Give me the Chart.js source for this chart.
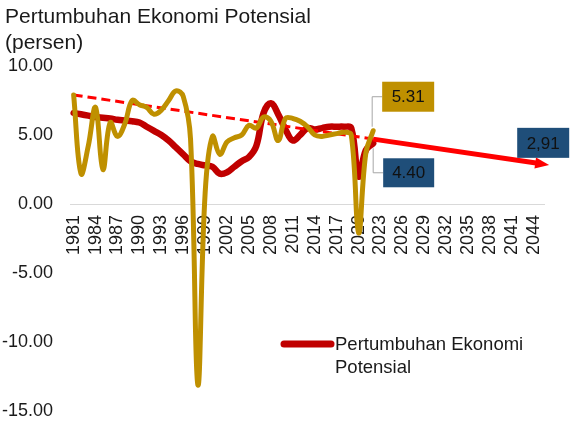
<!DOCTYPE html>
<html><head><meta charset="utf-8">
<script src="https://cdn.jsdelivr.net/npm/chart.js@4.4.1/dist/chart.umd.min.js"></script>
<style>html,body{margin:0;padding:0;background:#fff}#wrap{width:574px;height:422px;position:relative}</style>
</head><body><div id="wrap"><canvas id="c" width="574" height="422"></canvas></div>
<script>
const FONT = "'Liberation Sans', Arial, sans-serif";
const TEXT = '#1a1a1a';

const years = ['1981','1982','1983','1984','1985','1986','1987','1988','1989','1990',
  '1991','1992','1993','1994','1995','1996','1997','1998','1999','2000',
  '2001','2002','2003','2004','2005','2006','2007','2008','2009','2010',
  '2011','2012','2013','2014','2015','2016','2017','2018','2019','2020',
  '2021','2022','2023','2024','2025','2026','2027','2028','2029','2030',
  '2031','2032','2033','2034','2035','2036','2037','2038','2039','2040',
  '2041','2042','2043','2044','2045'];

// actual growth 1981-2022
const actualGrowth = [7.9,2.2,4.2,7.0,2.5,5.9,4.9,5.8,7.5,7.2,
  7.0,6.5,6.8,7.5,8.2,7.8,4.7,-13.1,0.8,4.9,
  3.6,4.5,4.8,5.0,5.7,5.5,6.3,6.0,4.6,6.2,
  6.2,6.0,5.6,5.0,4.9,5.0,5.1,5.2,5.0,-2.1,
  3.7,5.31];

// potential growth 1981-2022
const potentialGrowth = [6.6,6.5,6.4,6.3,6.25,6.2,6.1,6.05,6.0,5.9,
  5.6,5.3,5.0,4.6,4.1,3.6,3.1,2.9,2.8,2.7,
  2.2,2.3,2.7,3.1,3.4,4.2,6.6,7.3,6.5,5.4,
  4.6,5.0,5.5,5.4,5.5,5.6,5.6,5.6,5.5,2.0,
  3.9,4.40];

// trend line endpoints (dashed) and projection (arrow)
const trendPoints = {'1981': 7.9, '2045': 2.91};
const projectionPoints = {'2022': 4.70, '2045': 2.91};

const yTicks = [-15, -10, -5, 0, 5, 10];
const titleLines = ['Pertumbuhan Ekonomi Potensial', '(persen)'];
const legendLines = ['Pertumbuhan Ekonomi', 'Potensial'];
const calloutActual = '5.31';
const calloutPotential = '4.40';
const calloutProjection = '2,91';

const padSeries = arr => years.map((y, i) => i < arr.length ? arr[i] : null);
const sparse = obj => years.map(y => (y in obj) ? obj[y] : null);

const GOLD = '#BF9000';
const DARKRED = '#C00000';
const RED = '#FF0000';
const BLUE = '#1F4E79';

const overlay = {
  id: 'overlay',
  afterDatasetsDraw(chart) {
    const ctx = chart.ctx;
    const i22 = years.indexOf('2022');
    const pA = chart.getDatasetMeta(0).data[i22];
    const pR = chart.getDatasetMeta(3).data[i22];
    const proj = chart.getDatasetMeta(1).data.filter(p => !p.skip);
    const e = proj[proj.length - 1], s = proj[0];
    ctx.save();
    // arrowhead
    const dx = e.x - s.x, dy = e.y - s.y, L = Math.hypot(dx, dy);
    const ux = dx / L, uy = dy / L;
    const tipX = e.x + ux * 8, tipY = e.y + uy * 8;
    const bx = e.x - ux * 6, by = e.y - uy * 6;
    ctx.fillStyle = RED;
    ctx.beginPath();
    ctx.moveTo(tipX, tipY);
    ctx.lineTo(bx - uy * 5.5, by + ux * 5.5);
    ctx.lineTo(bx + uy * 5.5, by - ux * 5.5);
    ctx.closePath();
    ctx.fill();

    // leader lines
    ctx.strokeStyle = '#a6a6a6';
    ctx.lineWidth = 1;
    const b1 = {x: pA.x + 9, y: pA.y - 49, w: 52, h: 30};
    const b2 = {x: pR.x + 10, y: pR.y + 15, w: 51, h: 29};
    const b3 = {x: e.x - 24, y: e.y - 36, w: 52, h: 30};
    ctx.beginPath();
    ctx.moveTo(b1.x, b1.y + b1.h / 2); ctx.lineTo(pA.x - 1, b1.y + b1.h / 2); ctx.lineTo(pA.x - 1, pA.y - 4);
    ctx.moveTo(b2.x, b2.y + b2.h / 2); ctx.lineTo(pR.x, b2.y + b2.h / 2); ctx.lineTo(pR.x, pR.y + 5);
    ctx.stroke();

    const box = (b, fill, txt) => {
      ctx.fillStyle = fill;
      ctx.fillRect(b.x, b.y, b.w, b.h);
      ctx.fillStyle = '#111';
      ctx.font = '17px ' + FONT;
      ctx.textAlign = 'center';
      ctx.textBaseline = 'middle';
      ctx.fillText(txt, b.x + b.w / 2, b.y + b.h / 2 + 1);
    };
    box(b1, GOLD, calloutActual);
    box(b2, BLUE, calloutPotential);
    box(b3, BLUE, calloutProjection);

    // legend
    ctx.strokeStyle = DARKRED;
    ctx.lineWidth = 7;
    ctx.lineCap = 'round';
    ctx.beginPath(); ctx.moveTo(284, 344); ctx.lineTo(331, 344); ctx.stroke();
    ctx.fillStyle = TEXT;
    ctx.font = '18.5px ' + FONT;
    ctx.textAlign = 'left';
    ctx.textBaseline = 'middle';
    ctx.fillText(legendLines[0], 335, 345);
    ctx.fillText(legendLines[1], 335, 368);

    // title
    ctx.font = '21px ' + FONT;
    ctx.fillText(titleLines[0], 5, 17);
    ctx.fillText(titleLines[1], 5, 43);
    ctx.restore();
  }
};

new Chart(document.getElementById('c'), {
  type: 'line',
  data: {
    labels: years,
    datasets: [
      {label: 'Pertumbuhan Ekonomi', data: padSeries(actualGrowth), borderColor: GOLD, borderWidth: 5,
        tension: 0.4, pointRadius: 0, fill: false, borderCapStyle: 'round', borderJoinStyle: 'round'},
      {label: 'Proyeksi', data: sparse(projectionPoints), borderColor: RED, borderWidth: 5,
        spanGaps: true, pointRadius: 0, fill: false, tension: 0},
      {label: 'Tren', data: sparse(trendPoints), borderColor: RED, borderWidth: 3, borderDash: [9, 5],
        spanGaps: true, pointRadius: 0, fill: false, tension: 0},
      {label: 'Pertumbuhan Ekonomi Potensial', data: padSeries(potentialGrowth), borderColor: DARKRED, borderWidth: 6.5,
        tension: 0.4, pointRadius: 0, fill: false, borderCapStyle: 'round', borderJoinStyle: 'round'}
    ]
  },
  options: {
    responsive: false,
    animation: false,
    layout: {padding: {left: 0, right: 26, top: 66, bottom: 11}},
    plugins: {
      legend: {display: false},
      tooltip: {enabled: false},
      title: {display: false}
    },
    scales: {
      x: {
        position: {y: 0},
        offset: true,
        grid: {display: false, drawTicks: false},
        border: {display: true, color: '#d9d9d9', width: 1},
        ticks: {autoSkip: false, maxRotation: 90, minRotation: 90, padding: 11, color: TEXT,
          font: {family: FONT, size: 18},
          callback: function(v, i) { return (i % 3 === 0) ? years[i] : ''; }}
      },
      y: {
        min: -15, max: 10,
        afterBuildTicks: s => { s.ticks = yTicks.map(v => ({value: v})); },
        grid: {display: false, drawTicks: false},
        border: {display: false},
        ticks: {padding: 17, color: TEXT, font: {family: FONT, size: 18},
          callback: v => Number(v).toFixed(2)},
        afterFit: s => { s.width = 70; s.paddingTop = 11; s.paddingBottom = 11; }
      }
    }
  },
  plugins: [overlay]
});
</script></body></html>
